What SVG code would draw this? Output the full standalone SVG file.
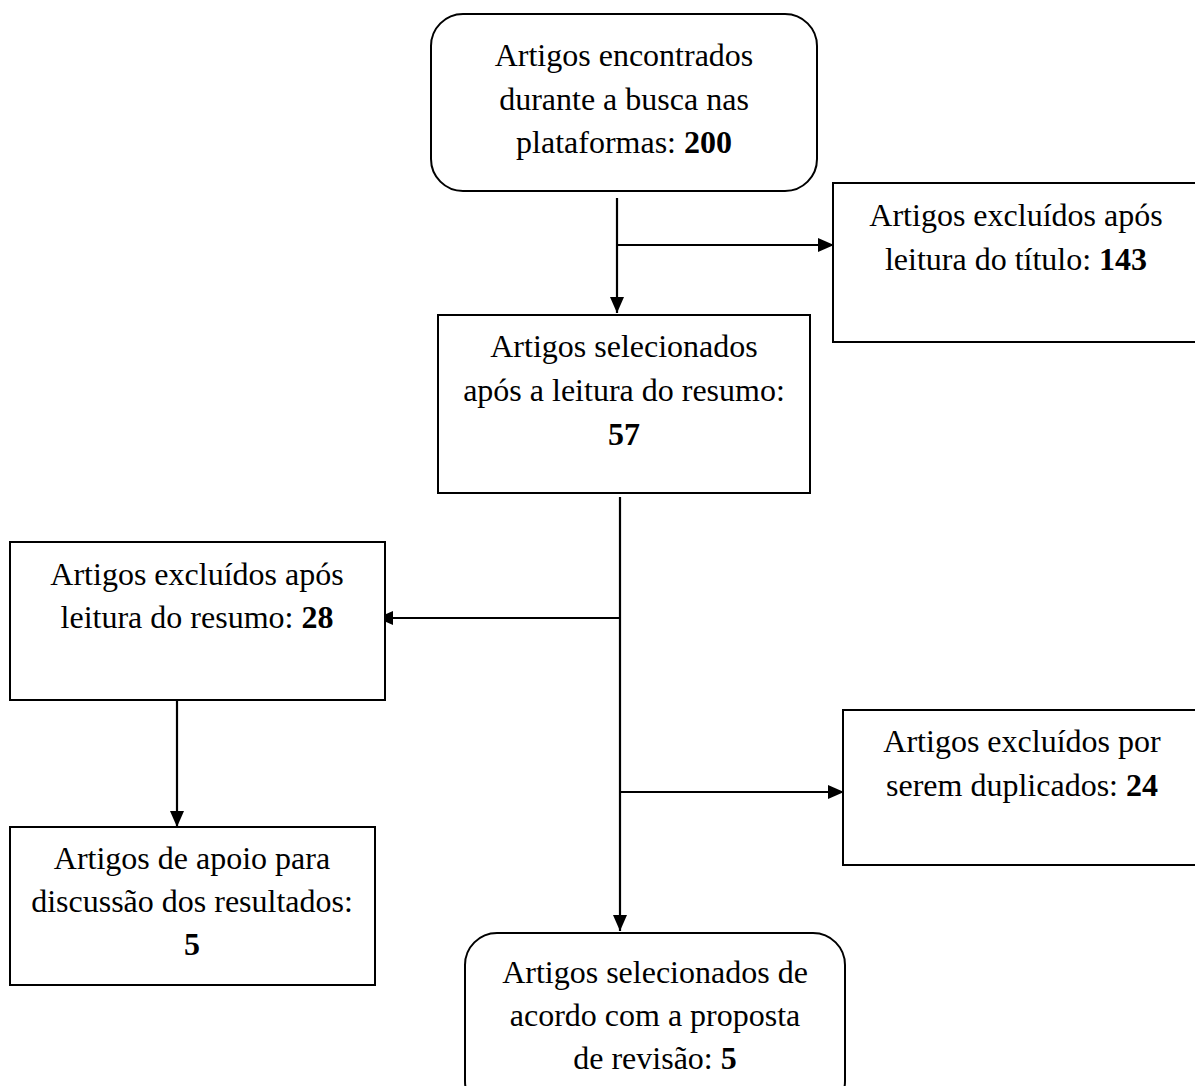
<svg xmlns="http://www.w3.org/2000/svg" width="1195" height="1086" viewBox="0 0 1195 1086">
<style>
.box{fill:#fff;stroke:#000;stroke-width:2}
.t{font-family:"Liberation Serif","Times New Roman",serif;font-size:32px;fill:#000;text-anchor:middle}
.b{font-weight:bold}
.c{fill:none;stroke:#000;stroke-width:2.2}
</style>
<defs>
<marker id="ah" viewBox="0 0 16 14" refX="16" refY="7" markerWidth="16" markerHeight="14" markerUnits="userSpaceOnUse" orient="auto">
<path d="M0,0 L16,7 L0,14 Z" fill="#000"/>
</marker>
</defs>
<rect width="1195" height="1086" fill="#fff"/>
<g id="connectors">
<path class="c" d="M617,198 V313" marker-end="url(#ah)"/>
<path class="c" d="M617,245 H834" marker-end="url(#ah)"/>
<path class="c" d="M620,497 V931" marker-end="url(#ah)"/>
<path class="c" d="M620,618 H377" marker-end="url(#ah)"/>
<path class="c" d="M620,792 H844" marker-end="url(#ah)"/>
<path class="c" d="M177,701 V827" marker-end="url(#ah)"/>
</g>
<g id="n1">
<rect class="box" x="431" y="14" width="386" height="177" rx="32"/>
<text class="t" x="624" y="66">Artigos encontrados</text>
<text class="t" x="624" y="110">durante a busca nas</text>
<text class="t" x="624" y="153">plataformas: <tspan class="b">200</tspan></text>
</g>
<g id="n2">
<rect class="box" x="833" y="183" width="370" height="159"/>
<text class="t" x="1016" y="226">Artigos excluídos após</text>
<text class="t" x="1016" y="270">leitura do título: <tspan class="b">143</tspan></text>
</g>
<g id="n3">
<rect class="box" x="438" y="315" width="372" height="178"/>
<text class="t" x="624" y="357">Artigos selecionados</text>
<text class="t" x="624" y="401">após a leitura do resumo:</text>
<text class="t b" x="624" y="445">57</text>
</g>
<g id="n4">
<rect class="box" x="10" y="542" width="375" height="158"/>
<text class="t" x="197" y="585">Artigos excluídos após</text>
<text class="t" x="197" y="628">leitura do resumo: <tspan class="b">28</tspan></text>
</g>
<g id="n5">
<rect class="box" x="843" y="710" width="360" height="155"/>
<text class="t" x="1022" y="752">Artigos excluídos por</text>
<text class="t" x="1022" y="796">serem duplicados: <tspan class="b">24</tspan></text>
</g>
<g id="n6">
<rect class="box" x="10" y="827" width="365" height="158"/>
<text class="t" x="192" y="869">Artigos de apoio para</text>
<text class="t" x="192" y="912">discussão dos resultados:</text>
<text class="t b" x="192" y="955">5</text>
</g>
<g id="n7">
<rect class="box" x="465" y="933" width="380" height="180" rx="32"/>
<text class="t" x="655" y="983">Artigos selecionados de</text>
<text class="t" x="655" y="1026">acordo com a proposta</text>
<text class="t" x="655" y="1069">de revisão: <tspan class="b">5</tspan></text>
</g>
</svg>
